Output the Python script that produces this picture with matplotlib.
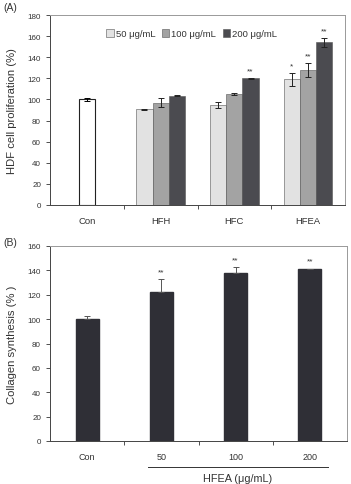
#!/usr/bin/env python
# HDF cell proliferation (A) and collagen synthesis (B) bar charts.

import numpy as np
import matplotlib.pyplot as plt

plt.rcParams['font.family'] = ['Liberation Sans', 'DejaVu Sans']
plt.rcParams['text.color'] = '#333333'
plt.rcParams['axes.labelcolor'] = '#333333'
plt.rcParams['xtick.color'] = '#333333'
plt.rcParams['ytick.color'] = '#333333'

# panel A data
groups_a = ['Con', 'HFH', 'HFC', 'HFEA']
doses = ['50 μg/mL', '100 μg/mL', '200 μg/mL']
con_a = 100.0
con_a_err = 1.5
vals_a = [[90.5, 97.0, 103.5],
          [94.5, 105.5, 120.0],
          [119.0, 128.0, 154.0]]
errs_a = [[0.5, 4.0, 0.6],
          [3.0, 1.0, 0.5],
          [6.0, 6.5, 4.5]]
stars_a = [['', '', ''],
           ['', '', '**'],
           ['*', '**', '**']]

# panel B data
groups_b = ['Con', '50', '100', '200']
vals_b = [100.0, 122.0, 137.5, 141.0]
errs_b = [2.5, 11.0, 5.0, 0.5]
stars_b = ['', '**', '**', '**']

fig = plt.figure(figsize=(3.51, 4.85), dpi=100)
ax1 = fig.add_axes([50/351, 1-206/485, 295/351, 190/485])
ax2 = fig.add_axes([50/351, 1-442/485, 297/351, 195/485])

colors = ['#e2e2e2', '#a3a3a3', '#4b4b50']
w = 0.22

# --- panel A ---
x = np.arange(len(groups_a))
ax1.bar(x[0], con_a, w, color='white', edgecolor='#222222', linewidth=0.8,
        yerr=con_a_err, error_kw=dict(elinewidth=0.7, capsize=2, capthick=0.7))
for j in range(3):
    xs = x[1:] + (j - 1) * w
    v = [vals_a[i][j] for i in range(3)]
    e = [errs_a[i][j] for i in range(3)]
    ax1.bar(xs, v, w, color=colors[j], edgecolor='#555555', linewidth=0.4,
            yerr=e, label=doses[j],
            error_kw=dict(elinewidth=0.7, capsize=2, capthick=0.7, ecolor='#222222'))
    for i in range(3):
        if stars_a[i][j]:
            ax1.text(xs[i], v[i] + e[i] + 3, stars_a[i][j], ha='center',
                     va='bottom', fontsize=6)

ax1.set_xlim(-0.5, 3.5)
ax1.set_ylim(0, 180)
ax1.set_yticks(np.arange(0, 181, 20))
ax1.set_xticks(x)
ax1.set_xticklabels(groups_a, fontsize=6.8)
ax1.set_xticks(np.arange(0.5, 3.5, 1), minor=True)
ax1.tick_params(axis='x', which='major', length=0, pad=8)
ax1.tick_params(axis='x', which='minor', length=3, direction='out', width=0.6)
ax1.tick_params(axis='y', length=3, width=0.6, labelsize=5.8)
ax1.set_ylabel('HDF cell proliferation (%)', fontsize=8.1)
ax1.yaxis.set_label_coords(-33/295, 0.5)
ax1.legend(loc='upper center', ncol=3, frameon=False, fontsize=6.8,
           handlelength=0.8, handleheight=0.8, handletextpad=0.2,
           columnspacing=0.7, bbox_to_anchor=(0.48, 0.97))
for s in ['top', 'right']:
    ax1.spines[s].set_color('#999999')
for s in ['left', 'bottom']:
    ax1.spines[s].set_color('#444444')
for sp in ax1.spines.values():
    sp.set_linewidth(0.7)
fig.text(3/351, 1-8/485, '(A)', fontsize=7.5, va='center')

# --- panel B ---
xb = np.arange(len(groups_b))
ax2.bar(xb, vals_b, 0.31, color='#2f2f36', edgecolor='#2f2f36',
        yerr=[np.zeros(4), errs_b],
        error_kw=dict(elinewidth=0.7, capsize=2, capthick=0.7, ecolor='#555555'))
for i in range(4):
    if stars_b[i]:
        ax2.text(xb[i], vals_b[i] + errs_b[i] + 3, stars_b[i], ha='center',
                 va='bottom', fontsize=6)
ax2.set_xlim(-0.5, 3.5)
ax2.set_ylim(0, 160)
ax2.set_yticks(np.arange(0, 161, 20))
ax2.set_xticks(xb)
ax2.set_xticklabels(groups_b, fontsize=6.5)
ax2.set_xticks(np.arange(0.5, 3.5, 1), minor=True)
ax2.tick_params(axis='x', which='major', length=0, pad=8)
ax2.tick_params(axis='x', which='minor', length=3, direction='out', width=0.6)
ax2.tick_params(axis='y', length=3, width=0.6, labelsize=5.8)
ax2.set_ylabel('Collagen synthesis (% )', fontsize=8.1)
ax2.yaxis.set_label_coords(-33/297, 0.5)
for s in ['top', 'right']:
    ax2.spines[s].set_color('#999999')
for s in ['left', 'bottom']:
    ax2.spines[s].set_color('#444444')
for sp in ax2.spines.values():
    sp.set_linewidth(0.7)
fig.text(3/351, 1-243/485, '(B)', fontsize=7.5, va='center')

# bracket line under dose labels
line_y = 1 - 468/485
fig.add_artist(plt.Line2D([148/351, 328/351], [line_y, line_y],
                          color='#333333', linewidth=0.7))
fig.text(238/351, 1-479/485, 'HFEA (μg/mL)', fontsize=7.8, ha='center', va='center')

fig.savefig('out.png', dpi=100)
